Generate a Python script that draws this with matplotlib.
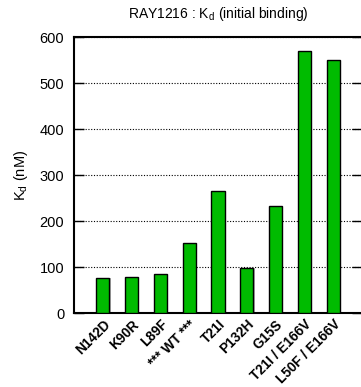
import matplotlib.pyplot as plt
import numpy as np

plt.rcParams['font.family'] = ['Liberation Sans', 'DejaVu Sans']

mutants = ['N142D', 'K90R', 'L89F', '*** WT ***', 'T21I', 'P132H', 'G15S',
           'T21I / E166V', 'L50F / E166V']
kd = [76, 78, 86, 152, 266, 99, 232, 570, 550]

fig = plt.figure(figsize=(3.61, 3.87), dpi=100)
ax = fig.add_axes([0.205, 0.191, 0.798, 0.713])

x = np.arange(1, len(mutants) + 1)
w = 0.46

# grey drop shadow, then the green bars
ax.bar(x + 0.04, kd, width=w, color='#b0b0b0', edgecolor='none', zorder=2)
ax.bar(x, kd, width=w, color='#00bb00', edgecolor='black', linewidth=1.0, zorder=3)

ax.set_xlim(0, 10)
ax.set_ylim(0, 600)
ax.set_yticks(np.arange(0, 601, 100))
ax.set_xticks(x)
ax.set_xticklabels(mutants, rotation=45, ha='right', rotation_mode='anchor',
                   fontsize=9.8, fontweight='bold')
ax.tick_params(axis='x', length=0, pad=3)
ax.tick_params(axis='y', direction='in', length=7, width=1, right=True,
               labelsize=10.5, pad=7)
ax.yaxis.grid(True, linestyle=(0, (1, 1.5)), color='black', linewidth=0.8)
ax.set_axisbelow(True)
for s in ax.spines.values():
    s.set_linewidth(1.5)

ax.set_ylabel(r'K$_\mathregular{d}$ (nM)', fontsize=10.5, labelpad=7)
ax.set_title(r'RAY1216 : K$_\mathregular{d}$ (initial binding)', fontsize=10, pad=14)

fig.savefig('out.png', dpi=100)
